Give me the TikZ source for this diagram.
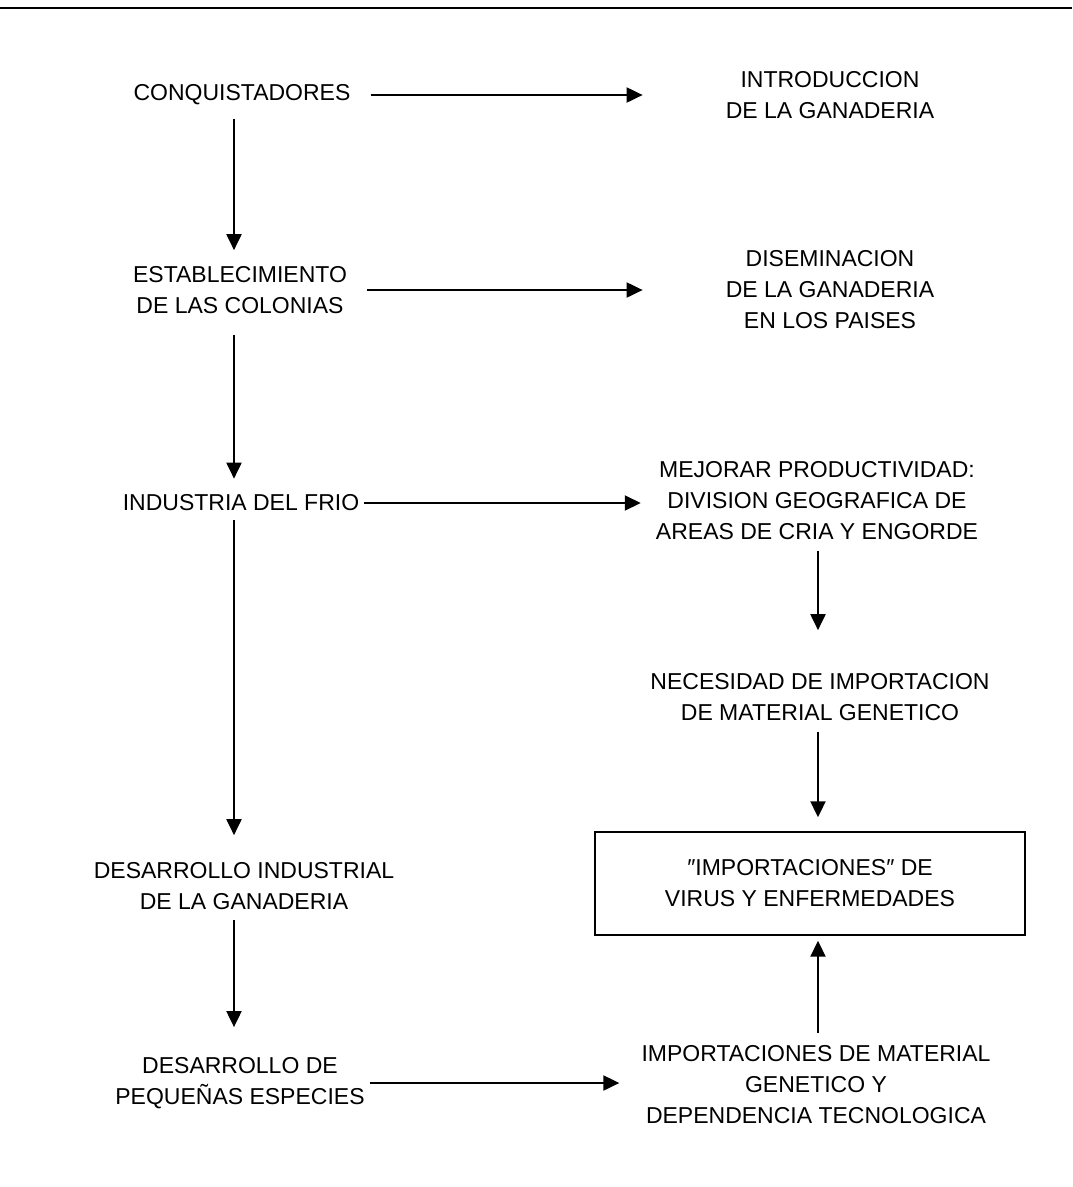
\documentclass[tikz,border=0pt]{standalone}
\usepackage{fontspec}
\setmainfont{Liberation Sans}
\usetikzlibrary{arrows.meta}
\begin{document}
\begin{tikzpicture}[x=1pt,y=-1pt,
  lbl/.style={align=center,inner sep=0pt,font=\fontsize{23}{31}\selectfont},
  arr/.style={line width=2pt,-{Triangle[length=16pt,width=15pt]}},
  boxed/.style={lbl,draw,line width=1.4pt,minimum width=430pt,minimum height=103pt}]
\useasboundingbox (0,0) rectangle (1072,1187);
\draw[line width=2.4pt] (0,8) -- (1072,8);
\coordinate (lx) at (234,0);
\coordinate (rx) at (818,0);
% left column
\node[lbl] (c1) at (242,95) {CONQUISTADORES};
\node[lbl] (c2) at (240,290) {ESTABLECIMIENTO\\DE LAS COLONIAS};
\node[lbl] (c3) at (241,503) {INDUSTRIA DEL FRIO};
\node[lbl] (c4) at (244,886) {DESARROLLO INDUSTRIAL\\DE LA GANADERIA};
\node[lbl] (c5) at (240,1083) {DESARROLLO DE\\PEQUEÑAS ESPECIES};
% right column
\node[lbl] (r1) at (830,95) {INTRODUCCION\\DE LA GANADERIA};
\node[lbl] (r2) at (830,290) {DISEMINACION\\DE LA GANADERIA\\EN LOS PAISES};
\node[lbl] (r3) at (817,501) {MEJORAR PRODUCTIVIDAD:\\DIVISION GEOGRAFICA DE\\AREAS DE CRIA Y ENGORDE};
\node[lbl] (r4) at (820,697) {NECESIDAD DE IMPORTACION\\DE MATERIAL GENETICO};
\node[boxed] (bx) at (810,883.5) {″IMPORTACIONES″ DE\\VIRUS Y ENFERMEDADES};
\node[lbl] (r5) at (816,1085) {IMPORTACIONES DE MATERIAL\\GENETICO Y\\DEPENDENCIA TECNOLOGICA};
% horizontal arrows
\draw[arr,shorten <=20pt,shorten >=83pt] (c1.east) -- (c1.east -| r1.west);
\draw[arr,shorten <=20pt,shorten >=83pt] (c2.east) -- (c2.east -| r2.west);
\draw[arr,shorten <=5pt,shorten >=15pt] (c3.east) -- (c3.east -| r3.west);
\draw[arr,shorten <=5pt,shorten >=22pt] (c5.east) -- (c5.east -| r5.west);
% left vertical arrows
\draw[arr,shorten <=14pt,shorten >=16pt] (c1.south -| lx) -- (c2.north -| lx);
\draw[arr,shorten <=21pt,shorten >=16pt] (c2.south -| lx) -- (c3.north -| lx);
\draw[arr,shorten <=9pt,shorten >=27pt] (c3.south -| lx) -- (c4.north -| lx);
\draw[arr,shorten <=10pt,shorten >=30pt] (c4.south -| lx) -- (c5.north -| lx);
% right vertical arrows
\draw[arr,shorten <=11pt,shorten >=43pt] (r3.south -| rx) -- (r4.north -| rx);
\draw[arr,shorten <=11pt,shorten >=14pt] (r4.south -| rx) -- (bx.north -| rx);
\draw[arr,shorten <=13pt,shorten >=5pt] (r5.north -| rx) -- (bx.south -| rx);
\end{tikzpicture}
\end{document}
